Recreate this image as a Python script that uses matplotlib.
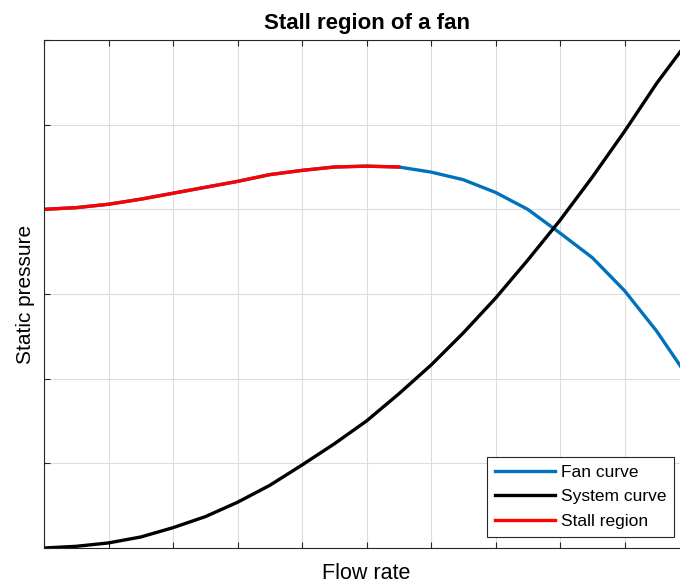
import matplotlib
matplotlib.use("Agg")
import matplotlib.pyplot as plt

plt.rcParams['font.family'] = ['Liberation Sans', 'DejaVu Sans']

# flow rate samples (grid ticks every 1 unit, curve points every 0.5)
flow = [0, 0.5, 1, 1.5, 2, 2.5, 3, 3.5, 4, 4.5, 5, 5.5, 6, 6.5, 7, 7.5, 8, 8.5, 9, 9.5, 10]

# fan curve
fan_pressure = [4.00, 4.02, 4.06, 4.12, 4.19, 4.26, 4.33, 4.41, 4.46, 4.50, 4.51,
                4.50, 4.44, 4.35, 4.20, 4.00, 3.72, 3.43, 3.04, 2.56, 2.00]

# system curve
system_pressure = [0.00, 0.02, 0.06, 0.13, 0.24, 0.37, 0.54, 0.74, 0.98, 1.23, 1.50,
                   1.82, 2.16, 2.54, 2.95, 3.40, 3.87, 4.38, 4.92, 5.49, 6.00]

# stall part of the fan curve: up to the peak region
stall_end = 12  # index, flow = 5.5

fig = plt.figure(figsize=(6.8, 5.83), dpi=100)
# axes runs past the right edge of the figure, like the original crop
ax = fig.add_axes([44 / 680, 35 / 583, 645 / 680, 508 / 583])

ax.plot(flow, fan_pressure, color='#0072BD', lw=2.4, label='Fan curve')
ax.plot(flow, system_pressure, color='black', lw=2.4, label='System curve')
ax.plot(flow[:stall_end], fan_pressure[:stall_end], color='red', lw=2.4, label='Stall region')

ax.set_xlim(0, 10)
ax.set_ylim(0, 6)
ax.set_xticks(range(0, 11))
ax.set_yticks(range(0, 7))
ax.set_xticklabels([])
ax.set_yticklabels([])
ax.tick_params(direction='in', length=4, width=0.8, color='#262626',
               top=True, right=True)
ax.grid(True, color='#dcdcdc', lw=0.8)
ax.set_axisbelow(True)
for s in ax.spines.values():
    s.set_color('#262626')
    s.set_linewidth(0.8)

ax.set_title('Stall region of a fan', fontsize=16, fontweight='bold', pad=8)
ax.set_xlabel('Flow rate', fontsize=15.5, labelpad=7)
ax.set_ylabel('Static pressure', fontsize=15, labelpad=3)

leg = ax.legend(loc='lower right', bbox_to_anchor=(0.9767, 0.0217), borderaxespad=0,
                fontsize=12.5, handlelength=3.45, handletextpad=0.35, labelspacing=0.55,
                fancybox=False, framealpha=1, edgecolor='#262626', borderpad=0.45)
leg.get_frame().set_linewidth(0.8)

fig.savefig('out.png', dpi=100)
